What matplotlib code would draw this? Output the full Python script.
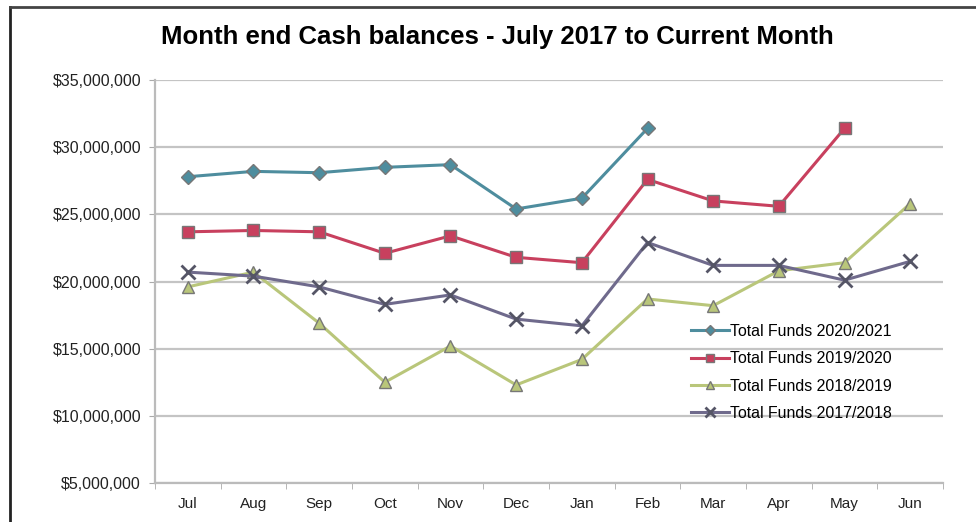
import matplotlib
matplotlib.use("Agg")
import matplotlib.pyplot as plt
from matplotlib.lines import Line2D
from matplotlib.ticker import FuncFormatter, FixedLocator

plt.rcParams['font.family'] = ['Liberation Sans', 'DejaVu Sans']

months = ['Jul', 'Aug', 'Sep', 'Oct', 'Nov', 'Dec', 'Jan', 'Feb', 'Mar', 'Apr', 'May', 'Jun']

# values in $ millions
funds_2021 = [27.8, 28.2, 28.1, 28.5, 28.7, 25.4, 26.2, 31.4]
funds_2020 = [23.7, 23.8, 23.7, 22.1, 23.4, 21.8, 21.4, 27.6, 26.0, 25.6, 31.4]
funds_2019 = [19.6, 20.7, 16.9, 12.5, 15.2, 12.3, 14.2, 18.7, 18.2, 20.8, 21.4, 25.8]
funds_2018 = [20.7, 20.4, 19.6, 18.3, 19.0, 17.2, 16.7, 22.9, 21.2, 21.2, 20.1, 21.5]

series = [
    ('Total Funds 2020/2021', funds_2021, '#4e8d9e', 'D', 7),
    ('Total Funds 2019/2020', funds_2020, '#c8405e', 's', 9),
    ('Total Funds 2018/2019', funds_2019, '#b9c67a', '^', 9),
    ('Total Funds 2017/2018', funds_2018, '#6f6a8c', 'x', 10),
]

fig = plt.figure(figsize=(9.76, 5.22), dpi=100)
ax = fig.add_axes([0.1588, 0.0747, 0.8074, 0.772])

x = list(range(len(months)))
for label, vals, col, mk, ms in series:
    if mk == 'x':
        ax.plot(x[:len(vals)], vals, color=col, lw=2.2, marker=mk, ms=ms,
                mew=2, mec='#555566', label=label, zorder=3)
    else:
        ax.plot(x[:len(vals)], vals, color=col, lw=2.2, marker=mk, ms=ms,
                mfc=col, mec='#777777', mew=1, label=label, zorder=3)

ax.set_xlim(-0.5, 11.5)
ax.set_ylim(5, 35)
ax.set_yticks(range(5, 36, 5))
ax.yaxis.set_major_formatter(FuncFormatter(lambda v, p: '${:,.0f}'.format(v * 1e6)))
ax.set_xticks(x)
ax.set_xticklabels(months)
ax.xaxis.set_minor_locator(FixedLocator([i - 0.5 for i in range(13)]))
ax.tick_params(axis='x', which='major', length=0, pad=10, labelsize=11, colors='#222222')
ax.tick_params(axis='x', which='minor', length=4, color='#aaaaaa', direction='out')
ax.tick_params(axis='y', length=4, color='#aaaaaa', pad=6, labelsize=11.5, colors='#222222')
ax.grid(axis='y', color='#c4c4c4', lw=1.6, zorder=0)
for s in ['top', 'right']:
    ax.spines[s].set_visible(False)
for s in ['left', 'bottom']:
    ax.spines[s].set_color('#bbbbbb')
    ax.spines[s].set_linewidth(1.6)

ax.legend(loc='upper left', bbox_to_anchor=(0.68, 0.395), frameon=False,
          fontsize=11.4, handlelength=2.4, handletextpad=0.1, labelspacing=0.78,
          markerscale=0.7, borderaxespad=0, borderpad=0)

fig.text(0.510, 0.929, 'Month end Cash balances - July 2017 to Current Month',
         ha='center', va='center', fontsize=18.5, fontweight='bold')

# chart border (left and top edges visible)
fig.add_artist(Line2D([10 / 976, 10 / 976], [0, 1 - 7 / 522], color='#222222', lw=2))
fig.add_artist(Line2D([10 / 976, 1], [1 - 7 / 522, 1 - 7 / 522], color='#444444', lw=2))

fig.savefig('out.png', dpi=100)
